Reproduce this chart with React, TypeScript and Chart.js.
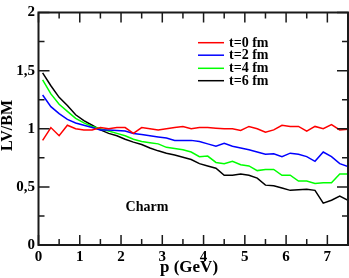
import React, { useEffect, useRef } from 'react';
import { Chart, registerables } from 'chart.js';

Chart.register(...registerables);

const P = [0.1, 0.3, 0.5, 0.7, 0.9, 1.1, 1.3, 1.5, 1.7, 1.9, 2.1, 2.3, 2.5, 2.7, 2.9, 3.1, 3.3, 3.5, 3.7, 3.9, 4.1, 4.3, 4.5, 4.7, 4.9, 5.1, 5.3, 5.5, 5.7, 5.9, 6.1, 6.3, 6.5, 6.7, 6.9, 7.1, 7.3, 7.5];

const T0 = [0.90, 1.01, 0.94, 1.03, 1.00, 0.99, 0.99, 1.01, 1.00, 1.01, 1.01, 0.96, 1.01, 1.00, 0.99, 1.00, 1.01, 1.02, 1.00, 1.01, 1.01, 1.005, 1.00, 1.00, 0.985, 1.02, 1.00, 0.97, 0.99, 1.03, 1.02, 1.02, 0.98, 1.02, 1.00, 1.035, 0.99, 0.995];
const T2 = [1.29, 1.19, 1.13, 1.08, 1.05, 1.03, 1.01, 0.99, 0.99, 0.985, 0.98, 0.96, 0.95, 0.94, 0.93, 0.92, 0.90, 0.90, 0.90, 0.89, 0.87, 0.85, 0.875, 0.85, 0.835, 0.82, 0.80, 0.78, 0.785, 0.76, 0.79, 0.78, 0.76, 0.72, 0.80, 0.76, 0.70, 0.675];
const T4 = [1.42, 1.30, 1.21, 1.15, 1.09, 1.05, 1.02, 1.00, 0.98, 0.96, 0.94, 0.91, 0.89, 0.88, 0.87, 0.84, 0.83, 0.82, 0.80, 0.76, 0.765, 0.71, 0.70, 0.72, 0.69, 0.68, 0.64, 0.65, 0.65, 0.60, 0.60, 0.55, 0.55, 0.53, 0.535, 0.535, 0.61, 0.61];
const T6 = [1.48, 1.37, 1.27, 1.20, 1.12, 1.07, 1.03, 0.99, 0.96, 0.94, 0.91, 0.885, 0.865, 0.835, 0.81, 0.79, 0.775, 0.755, 0.735, 0.70, 0.68, 0.66, 0.60, 0.60, 0.61, 0.60, 0.575, 0.515, 0.51, 0.49, 0.47, 0.475, 0.48, 0.47, 0.36, 0.385, 0.42, 0.385];

const SERIES = [T0, T2, T4, T6];
const SERIES_LABELS = ['t=0 fm', 't=2 fm', 't=4 fm', 't=6 fm'];
const SERIES_COLORS = ['#ff0000', '#0000ff', '#00ff00', '#000000'];

const X_MAJOR = [0, 1, 2, 3, 4, 5, 6, 7];
const X_MINOR = [0.5, 1.5, 2.5, 3.5, 4.5, 5.5, 6.5, 7.5];
const Y_MAJOR = [0, 0.5, 1, 1.5, 2];
const Y_MINOR = [0.25, 0.75, 1.25, 1.75];

const X_TITLE = 'p (GeV)';
const Y_TITLE = 'LV/BM';
const NOTE = 'Charm';

const FONT = "'Liberation Serif', 'Times New Roman', serif";

export default function App() {
  const ref = useRef<HTMLCanvasElement | null>(null);

  useEffect(() => {
    if (!ref.current) return;

    const framePlugin = {
      id: 'frameTicks',
      afterDatasetsDraw(chart: any) {
        const { ctx, chartArea: a, scales } = chart;
        const x = scales.x;
        const y = scales.y;
        ctx.save();
        ctx.strokeStyle = '#1a1a1a';
        ctx.lineWidth = 1.5;
        ctx.beginPath();
        const xt = (v: number, len: number) => {
          const px = x.getPixelForValue(v);
          ctx.moveTo(px, a.bottom);
          ctx.lineTo(px, a.bottom - len);
          ctx.moveTo(px, a.top);
          ctx.lineTo(px, a.top + len);
        };
        const yt = (v: number, len: number) => {
          const py = y.getPixelForValue(v);
          ctx.moveTo(a.left, py);
          ctx.lineTo(a.left + len, py);
          ctx.moveTo(a.right, py);
          ctx.lineTo(a.right - len, py);
        };
        X_MAJOR.forEach((v) => xt(v, 10));
        X_MINOR.forEach((v) => xt(v, 6));
        Y_MAJOR.forEach((v) => yt(v, 11));
        Y_MINOR.forEach((v) => yt(v, 6));
        ctx.stroke();
        ctx.lineWidth = 2;
        ctx.strokeRect(a.left, a.top, a.right - a.left, a.bottom - a.top);
        ctx.restore();
      },
      afterDraw(chart: any) {
        const { ctx } = chart;
        ctx.save();
        ctx.fillStyle = '#000';
        // legend
        ctx.font = `bold 14px ${FONT}`;
        ctx.textBaseline = 'middle';
        ctx.textAlign = 'left';
        const rows = [42.7, 55.2, 68.3, 80.7];
        SERIES_LABELS.forEach((lab, i) => {
          ctx.strokeStyle = SERIES_COLORS[i];
          ctx.lineWidth = 1.5;
          ctx.beginPath();
          ctx.moveTo(198, rows[i]);
          ctx.lineTo(224, rows[i]);
          ctx.stroke();
          ctx.fillText(lab, 229, rows[i] + 0.5);
        });
        // note
        ctx.textAlign = 'center';
        ctx.fillText(NOTE, 147, 207);
        // x title
        ctx.font = `bold 17px ${FONT}`;
        ctx.fillText(X_TITLE, 189, 268);
        // y title
        ctx.font = `bold 16px ${FONT}`;
        ctx.translate(8, 125.5);
        ctx.rotate(-Math.PI / 2);
        ctx.fillText(Y_TITLE, 0, 0);
        ctx.restore();
      },
    };

    const chart = new Chart(ref.current, {
      type: 'line',
      data: {
        datasets: SERIES.map((s, i) => ({
          label: SERIES_LABELS[i],
          data: P.map((p, j) => ({ x: p, y: s[j] })),
          borderColor: SERIES_COLORS[i],
          backgroundColor: SERIES_COLORS[i],
          borderWidth: 1.5,
          pointRadius: 0,
          tension: 0,
          fill: false,
        })),
      },
      options: {
        responsive: false,
        animation: false,
        devicePixelRatio: 1,
        layout: { padding: { top: 5, right: 1, left: 0, bottom: 0 } },
        plugins: {
          legend: { display: false },
          tooltip: { enabled: false },
          title: { display: false },
        },
        scales: {
          x: {
            type: 'linear',
            min: 0,
            max: 7.5,
            grid: { display: false, drawTicks: false },
            border: { display: false },
            ticks: {
              stepSize: 1,
              includeBounds: false,
              autoSkip: false,
              maxRotation: 0,
              padding: 3.5,
              color: '#000',
              font: { family: FONT, size: 15, weight: 'bold' },
            },
            afterFit: (s: any) => {
              s.height = 33;
            },
          },
          y: {
            type: 'linear',
            min: 0,
            max: 2,
            grid: { display: false, drawTicks: false },
            border: { display: false },
            ticks: {
              stepSize: 0.5,
              autoSkip: false,
              padding: 3.5,
              color: '#000',
              font: { family: FONT, size: 15, weight: 'bold' },
              callback: (v: any) => String(v).replace('.', ','),
            },
            afterFit: (s: any) => {
              s.width = 38.5;
            },
          },
        },
      },
      plugins: [framePlugin],
    } as any);

    return () => chart.destroy();
  }, []);

  return (
    <div style={{ position: 'fixed', left: 0, top: 0, width: 349, height: 278, background: '#fff' }}>
      <canvas ref={ref} width={349} height={278} style={{ display: 'block', width: 349, height: 278 }} />
    </div>
  );
}
